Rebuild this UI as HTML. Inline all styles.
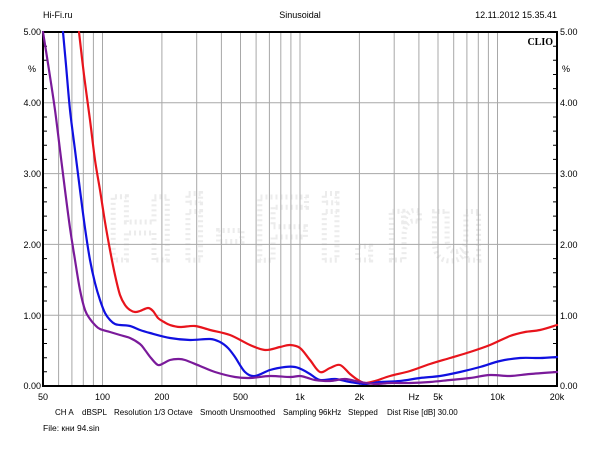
<!DOCTYPE html>
<html><head><meta charset="utf-8"><style>
html,body{margin:0;padding:0;background:#fff;}
svg{display:block;font-family:"Liberation Sans",sans-serif;}
</style></head><body>
<svg width="600" height="450" viewBox="0 0 600 450" xmlns="http://www.w3.org/2000/svg">
<rect width="600" height="450" fill="#fff"/>
<g font-size="9" fill="#000">
<text x="43" y="18">Hi-Fi.ru</text>
<text x="300" y="18" text-anchor="middle">Sinusoidal</text>
<text x="557" y="18" text-anchor="end">12.11.2012 15.35.41</text>
</g>
<text x="300" y="260" text-anchor="middle" font-size="92" font-weight="bold" fill="none" stroke="#ececec" stroke-width="5" stroke-dasharray="2 3" letter-spacing="8">Hi-Fi.ru</text>
<g stroke="#a8a8a8" stroke-width="1">
<path d="M58.6 32V386M71.9 32V386M83.3 32V386M93.4 32V386M102.5 32V386M161.9 32V386M196.7 32V386M221.4 32V386M240.5 32V386M256.1 32V386M269.4 32V386M280.8 32V386M290.9 32V386M300 32V386M359.4 32V386M394.2 32V386M418.9 32V386M438 32V386M453.7 32V386M466.9 32V386M478.3 32V386M488.4 32V386M497.5 32V386"/>
<path d="M43 102.8H557M43 173.6H557M43 244.4H557M43 315.2H557"/>
</g>
<g stroke="#000" stroke-width="1">
<path d="M43 46.2h4M43 60.3h4M43 74.5h4M43 88.6h4M43 117h4M43 131.1h4M43 145.3h4M43 159.4h4M43 187.8h4M43 201.9h4M43 216.1h4M43 230.2h4M43 258.6h4M43 272.7h4M43 286.9h4M43 301h4M43 329.4h4M43 343.5h4M43 357.7h4M43 371.8h4"/>
<path d="M557 46.2h-4M557 60.3h-4M557 74.5h-4M557 88.6h-4M557 117h-4M557 131.1h-4M557 145.3h-4M557 159.4h-4M557 187.8h-4M557 201.9h-4M557 216.1h-4M557 230.2h-4M557 258.6h-4M557 272.7h-4M557 286.9h-4M557 301h-4M557 329.4h-4M557 343.5h-4M557 357.7h-4M557 371.8h-4"/>
</g>
<rect x="43" y="32" width="514" height="354" fill="none" stroke="#000" stroke-width="2"/>
<text x="553" y="45" text-anchor="end" font-family="Liberation Serif,serif" font-weight="bold" font-size="10">CLIO</text>
<g id="curves" fill="none" stroke-width="2.2" stroke-linejoin="round" stroke-linecap="round">
<polyline stroke="#e8141c" points="79,32 84,75 90,120 95,160 100,190 105,222 110,250 115,275 120,295 125,305 130,310 135,312 140,311 148,308 153,311 158,318 164,322 170,325 180,327 195,326 210,330 230,335 250,345 265,350 280,347 290,345 300,348 310,360 320,372 330,368 340,365 350,374 358,380 365,383 375,381 390,376 410,371 430,364 450,358 470,352 490,345 510,336 525,332 540,330 557,325"/>
<polyline stroke="#1010e0" points="63,32 66,65 70,110 75,150 80,190 85,228 90,260 95,283 100,300 105,313 110,320 115,324 120,325 130,326 140,330 150,333 170,338 190,340 210,339 220,342 228,348 235,357 245,372 255,376 270,370 285,367 295,367 303,370 310,374 320,380 335,379 350,382 365,384 380,382 400,381 420,378 440,376 460,372 480,367 500,361 520,358 540,358 557,357"/>
<polyline stroke="#7a1a9a" points="43,32 49,70 55,110 60,150 65,190 70,228 75,260 80,290 85,310 90,319 95,325 100,329 110,332 120,335 130,338 140,344 145,350 151,358 158,365 164,363 170,360 178,359 185,360 200,366 215,372 235,377 250,378 270,376 290,377 300,376 308,378 315,380 330,381 345,379 360,382 375,384 390,383 410,383 430,382 450,380 470,378 490,375 510,376 530,374 557,372"/>
</g>
<g font-size="9" fill="#000">
<text x="41" y="35" text-anchor="end">5.00</text>
<text x="36" y="72" text-anchor="end">%</text>
<text x="41" y="106" text-anchor="end">4.00</text>
<text x="41" y="177" text-anchor="end">3.00</text>
<text x="41" y="248" text-anchor="end">2.00</text>
<text x="41" y="319" text-anchor="end">1.00</text>
<text x="41" y="389" text-anchor="end">0.00</text>
<text x="560" y="35">5.00</text>
<text x="562" y="72">%</text>
<text x="560" y="106">4.00</text>
<text x="560" y="177">3.00</text>
<text x="560" y="248">2.00</text>
<text x="560" y="319">1.00</text>
<text x="560" y="389">0.00</text>
<g text-anchor="middle">
<text x="43" y="400">50</text>
<text x="102.5" y="400">100</text>
<text x="161.9" y="400">200</text>
<text x="240.5" y="400">500</text>
<text x="300" y="400">1k</text>
<text x="359.4" y="400">2k</text>
<text x="414" y="400">Hz</text>
<text x="438" y="400">5k</text>
<text x="497.5" y="400">10k</text>
<text x="557" y="400">20k</text>
</g>
<g font-size="8">
<text x="55" y="415">CH A</text>
<text x="82" y="415">dBSPL</text>
<text x="114" y="415">Resolution 1/3 Octave</text>
<text x="200" y="415">Smooth Unsmoothed</text>
<text x="283" y="415">Sampling 96kHz</text>
<text x="348" y="415">Stepped</text>
<text x="387" y="415">Dist Rise [dB] 30.00</text>
</g>
<text x="43" y="431" font-size="8.5">File: кни 94.sin</text>
</g>
</svg>
<script>
document.querySelectorAll('#curves polyline').forEach(function(pl){
  var p=pl.getAttribute('points').trim().split(/\s+/).map(function(s){return s.split(',').map(Number);});
  var d='M'+p[0][0]+' '+p[0][1];
  for(var i=0;i<p.length-1;i++){
    var p0=p[i-1]||p[i],p1=p[i],p2=p[i+1],p3=p[i+2]||p2;
    var c1=[p1[0]+(p2[0]-p0[0])/6,p1[1]+(p2[1]-p0[1])/6];
    var c2=[p2[0]-(p3[0]-p1[0])/6,p2[1]-(p3[1]-p1[1])/6];
    d+=' C'+c1[0]+' '+c1[1]+' '+c2[0]+' '+c2[1]+' '+p2[0]+' '+p2[1];
  }
  var path=document.createElementNS('http://www.w3.org/2000/svg','path');
  path.setAttribute('d',d);path.setAttribute('stroke',pl.getAttribute('stroke'));
  pl.parentNode.replaceChild(path,pl);
});
</script>
</body></html>
